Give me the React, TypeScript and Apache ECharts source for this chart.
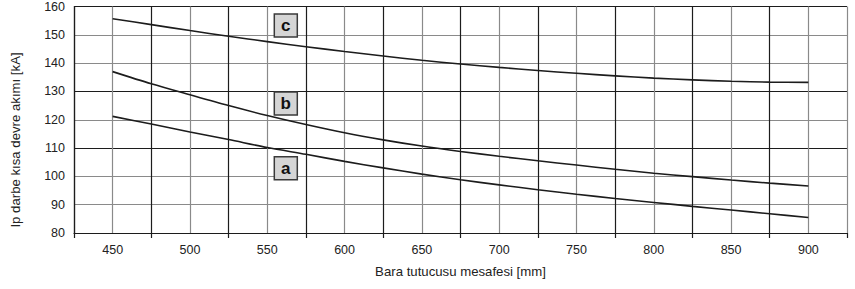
import React, { useEffect, useRef } from "react";
import * as echarts from "echarts";

const xValues = [450, 475, 500, 525, 550, 575, 600, 625, 650, 675, 700, 725, 750, 775, 800, 825, 850, 875, 900];
const curveA = [121.2, 118.5, 115.7, 113.0, 110.2, 107.8, 105.3, 103.0, 100.8, 98.8, 97.0, 95.3, 93.7, 92.2, 90.8, 89.4, 88.1, 86.8, 85.5];
const curveB = [137.0, 132.7, 128.8, 125.0, 121.5, 118.3, 115.4, 112.9, 110.7, 108.8, 107.1, 105.5, 104.0, 102.5, 101.1, 99.9, 98.7, 97.6, 96.6];
const curveC = [155.7, 153.6, 151.5, 149.5, 147.6, 145.8, 144.1, 142.5, 141.0, 139.7, 138.5, 137.4, 136.4, 135.5, 134.7, 134.1, 133.6, 133.3, 133.2];
const curveNames = ["a", "b", "c"];
const tagX = [562, 562, 562];
const tagY = [102.9, 125.7, 153.3];

const xTitle = "Bara tutucusu mesafesi [mm]";
const yTitle = "Ip darbe kısa devre akımı [kA]";

const DARK = "#1c1c1c";
const GRAY = "#8a8a8a";
const FONT = "Liberation Sans, Arial, Helvetica, sans-serif";

export default function App() {
  const ref = useRef<HTMLDivElement>(null);
  useEffect(() => {
    if (!ref.current) return;
    const chart = echarts.init(ref.current, undefined, { renderer: "svg" });
    const xLineColors: string[] = [];
    for (let v = 425; v <= 925; v += 25) {
      xLineColors.push(v === 925 ? GRAY : (v - 425) % 50 === 0 ? DARK : GRAY);
    }
    const yLineColors = [DARK, GRAY, GRAY, DARK, GRAY, DARK, GRAY, GRAY, DARK];
    const mk = (vals: number[]) => xValues.map((x, i) => [x, vals[i]]);
    chart.setOption({
      animation: false,
      backgroundColor: "#ffffff",
      textStyle: { fontFamily: FONT },
      grid: { left: 74, right: 8, top: 5, bottom: 56, containLabel: false },
      xAxis: [
        {
          type: "value",
          min: 425,
          max: 925,
          interval: 25,
          axisLine: { show: true, lineStyle: { color: DARK, width: 1.2 } },
          axisTick: { show: false },
          axisLabel: {
            color: "#222",
            fontSize: 12.5,
            margin: 10,
            showMinLabel: false,
            showMaxLabel: false,
            formatter: (v: number) => (v % 50 === 0 ? String(v) : ""),
          },
          splitLine: { show: true, lineStyle: { color: xLineColors, width: 1.2 } },
          name: xTitle,
          nameLocation: "middle",
          nameGap: 32,
          nameTextStyle: { color: "#222", fontSize: 13.2 },
        },
        {
          type: "value",
          min: 0,
          max: 500,
          interval: 50,
          position: "bottom",
          offset: 0,
          axisLine: { show: false },
          axisTick: { show: true, length: 5, lineStyle: { color: DARK, width: 1.2 } },
          axisLabel: { show: false },
          splitLine: { show: false },
        },
      ],
      yAxis: {
        type: "value",
        min: 80,
        max: 160,
        interval: 10,
        axisLine: { show: true, lineStyle: { color: DARK, width: 1.2 } },
        axisTick: { show: false },
        axisLabel: { color: "#222", fontSize: 12.5, margin: 9 },
        splitLine: { show: true, lineStyle: { color: yLineColors, width: 1.2 } },
      },
      graphic: [
        {
          type: "text",
          x: 15,
          y: 140,
          rotation: Math.PI / 2,
          style: {
            text: yTitle,
            fill: "#222",
            fontSize: 13.2,
            fontFamily: FONT,
            align: "center",
            verticalAlign: "middle",
          },
        },
      ],
      series: [
        ...[curveA, curveB, curveC].map((vals, i) => ({
          type: "line",
          name: curveNames[i],
          data: mk(vals),
          smooth: 0.3,
          symbol: "none",
          lineStyle: { color: DARK, width: 1.6 },
          z: 3,
        })),
        {
          type: "scatter",
          data: curveNames.map((n, i) => ({ name: n, value: [tagX[i], tagY[i]] })),
          symbol: "rect",
          symbolSize: 23,
          itemStyle: { color: "#d5d5d5", borderColor: "#3a3a3a", borderWidth: 1.5, opacity: 1 },
          label: {
            show: true,
            position: "inside",
            formatter: (p: any) => p.name,
            fontSize: 17,
            fontWeight: "bold",
            color: "#111",
            fontFamily: FONT,
          },
          z: 5,
        },
      ],
    });
    return () => chart.dispose();
  }, []);
  return (
    <div
      ref={ref}
      style={{ position: "fixed", left: 0, top: 0, width: 855, height: 289 }}
    />
  );
}
